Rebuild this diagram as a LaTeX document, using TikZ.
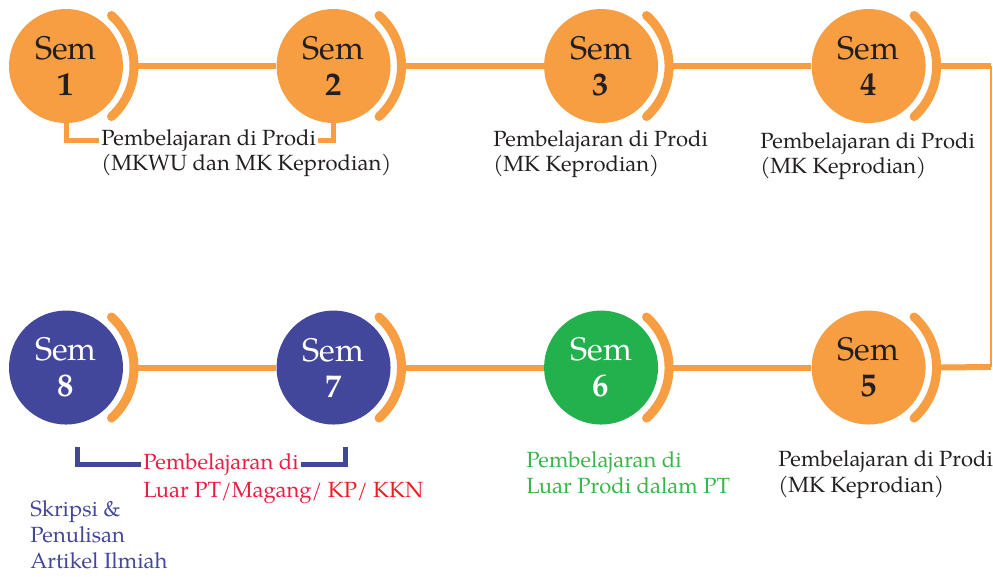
\documentclass[tikz,border=0pt]{standalone}
\usepackage{fontspec}
\setmainfont{texgyrepagella}[
    Extension=.otf,
    UprightFont=*-regular,
    BoldFont=*-bold,
    ItalicFont=*-italic,
    BoldItalicFont=*-bolditalic]
\usetikzlibrary{positioning}
\definecolor{semorange}{RGB}{247,157,66}
\definecolor{semnavy}{RGB}{67,71,155}
\definecolor{semgreen}{RGB}{35,177,77}
\definecolor{semtext}{RGB}{35,31,32}
\definecolor{luartext}{RGB}{237,28,66}
\definecolor{kkntext}{RGB}{237,28,36}
\definecolor{prodigreen}{RGB}{57,181,74}
\tikzset{
    sem/.style = {
        circle,
        minimum size=85.5pt,
        inner sep=0pt,
        align=center,
        text=semtext,
        font=\fontsize{24.5}{27}\selectfont,
        },
    sem light/.style = {
        sem,
        text=white,
        },
    ring/.style = {
        draw=semorange,
        line width=6.75pt,
        line cap=round,
        },
    link/.style = {
        draw=semorange,
        line width=4.5pt,
        },
    link thin/.style = {
        draw=semorange,
        line width=2pt,
        },
    bracket/.style = {
        line width=3.75pt,
        },
    lbl/.style = {
        anchor=base west,
        inner xsep=1.5pt,
        inner ysep=0pt,
        text=semtext,
        font=\fontsize{16.5}{19}\selectfont,
        },
}

\begin{document}
\begin{tikzpicture}[x=0.75pt, y=-0.75pt, node distance=140.25pt and 114.75pt]
    \useasboundingbox (0,0) rectangle (993,576);

    \node[sem, fill=semorange] (s1) at (66,66) {Sem\\\textbf{1}};
    \node[sem, fill=semorange, right=of s1] (s2) {Sem\\\textbf{2}};
    \node[sem, fill=semorange, right=of s2] (s3) {Sem\\\textbf{3}};
    \node[sem, fill=semorange, right=of s3] (s4) {Sem\\\textbf{4}};
    \node[sem, fill=semorange, below=of s4] (s5) {Sem\\\textbf{5}};
    \node[sem light, fill=semgreen, left=of s5] (s6) {Sem\\\textbf{6}};
    \node[sem light, fill=semnavy, left=of s6] (s7) {Sem\\\textbf{7}};
    \node[sem light, fill=semnavy, left=of s7] (s8) {Sem\\\textbf{8}};

    % half rings on the right of every semester
    \foreach \s in {1,...,8} {
        \draw[ring] (s\s.center) ++(-48:51pt) arc[start angle=-48, end angle=48, radius=51pt];
        \path (s\s.center) ++(51pt,0) coordinate (a\s);
    }

    \coordinate (c1) at (991,66);
    \coordinate (c2) at (991,367);

    \draw[link] (a1) -- (s2);
    \draw[link] (a2) -- (s3);
    \draw[link] (a3) -- (s4);
    \draw[link] (a4) -- (c1);
    \draw[link thin] (c1) -- (c2);
    \draw[link] (c2) -- (a5);
    \draw[link] (a6) -- (s5);
    \draw[link] (a7) -- (s6);
    \draw[link] (a8) -- (s7);

    % labels
    \node[lbl] (l1a) at (99,145) {Pembelajaran di Prodi};
    \node[lbl] (l1b) at (99,170) {(MKWU dan MK Keprodian)};
    \node[lbl] (l3a) at (491,146) {Pembelajaran di Prodi};
    \node[lbl] (l3b) at (491,171) {(MK Keprodian)};
    \node[lbl] (l4a) at (758,148) {Pembelajaran di Prodi};
    \node[lbl] (l4b) at (758,173) {(MK Keprodian)};
    \node[lbl] (l5a) at (776,466) {Pembelajaran di Prodi};
    \node[lbl] (l5b) at (776,492) {(MK Keprodian)};
    \node[lbl, text=prodigreen] (l6a) at (524,467) {Pembelajaran di};
    \node[lbl, text=prodigreen] (l6b) at (524,493) {Luar Prodi dalam PT};
    \node[lbl, text=luartext] (l7a) at (141,469) {Pembelajaran di};
    \node[lbl, text=luartext] (l7b) at (141,497) {Luar PT/Magang/ \textcolor{kkntext}{KP/ KKN}};
    \node[lbl, text=semnavy] (l8a) at (28,516) {Skripsi \&};
    \node[lbl, text=semnavy] (l8b) at (28,542) {Penulisan};
    \node[lbl, text=semnavy] (l8c) at (28,568) {Artikel Ilmiah};

    \coordinate (d1) at (77,447);
    \coordinate (d2) at (345,447);

    \draw[bracket, semorange] (s1.south) |- (l1a.west);
    \draw[bracket, semorange] (l1a.east) -| (s2.south);
    \draw[bracket, semnavy] (d1) |- (l7a.west);
    \draw[bracket, semnavy] (l7a.east) -| (d2);
\end{tikzpicture}
\end{document}
